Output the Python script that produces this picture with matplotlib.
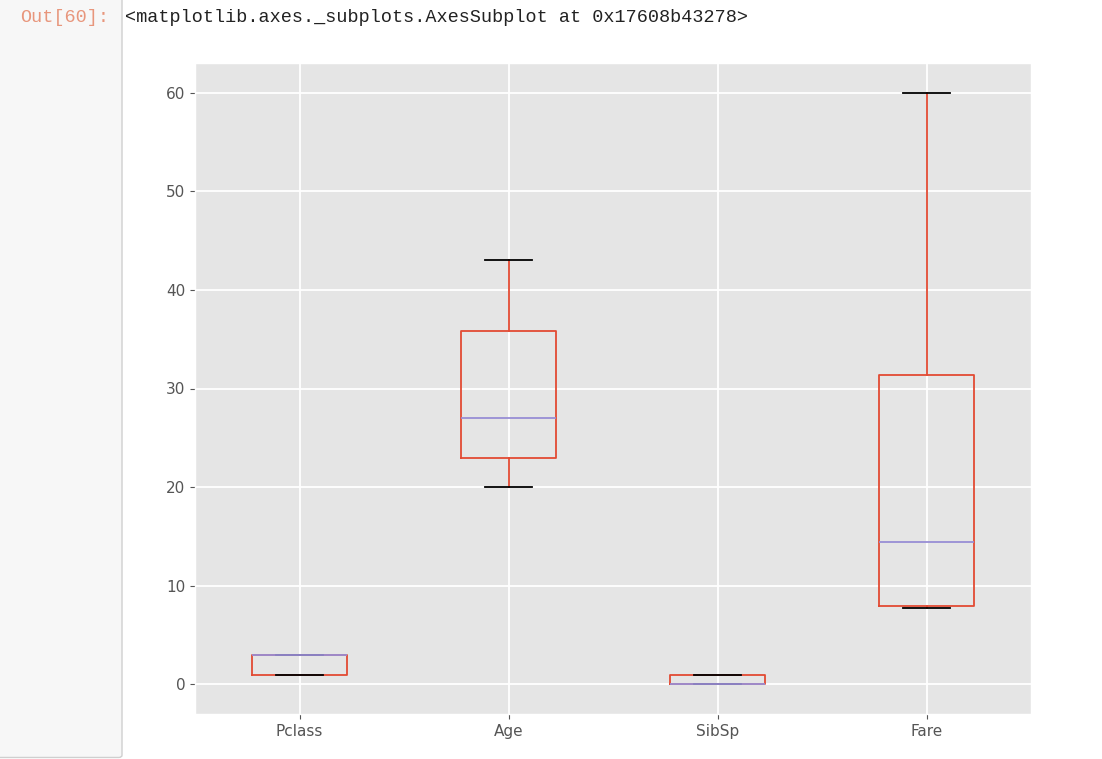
import matplotlib.pyplot as plt
from matplotlib.patches import FancyBboxPatch

plt.style.use('ggplot')

# box statistics
names = ['Pclass', 'Age', 'SibSp', 'Fare']
q1 = [1, 23.0, 0, 7.9]
med = [3, 27.0, 0, 14.45]
q3 = [3, 35.8, 1, 31.4]
whislo = [1, 20.0, 0, 7.75]
whishi = [3, 43.0, 1, 60.0]

stats = []
for i in range(len(names)):
    stats.append(dict(label=names[i], q1=q1[i], med=med[i], q3=q3[i],
                      whislo=whislo[i], whishi=whishi[i], fliers=[]))

fig = plt.figure(figsize=(11.02, 7.59), dpi=100)
fig.patch.set_facecolor('white')

# notebook prompt area on the left
panel = FancyBboxPatch((-0.01, 0.002), 122 / 1102 + 0.01, 1.1,
                       boxstyle='round,pad=0,rounding_size=0.003',
                       transform=fig.transFigure, facecolor='#f7f7f7',
                       edgecolor='#cfcfcf', linewidth=1)
fig.patches.append(panel)
fig.text(20 / 1102, 1 - 17 / 759, 'Out[60]:', color='#e8967c',
         family='Liberation Mono', fontsize=13.3, va='center')
fig.text(125 / 1102, 1 - 17 / 759,
         '<matplotlib.axes._subplots.AxesSubplot at 0x17608b43278>',
         color='#222222', family='Liberation Mono', fontsize=13.3, va='center')

ax = fig.add_axes([195 / 1102, 1 - 714 / 759, (1031 - 195) / 1102, (714 - 63) / 759])
ax.bxp(stats, widths=0.45, showfliers=False,
       boxprops=dict(color='#E24A33', linewidth=1.3),
       whiskerprops=dict(color='#E24A33', linewidth=1.3),
       medianprops=dict(color='#988ED5', linewidth=1.3),
       capprops=dict(color='k', linewidth=1.3))
ax.set_xlim(0.5, 4.5)
ax.set_ylim(-3, 63)
ax.grid(True, color='white', linewidth=1.3)
ax.tick_params(labelsize=11, colors='#555555')
for lab in ax.get_xticklabels() + ax.get_yticklabels():
    lab.set_color('#555555')

fig.savefig('out.png', dpi=100)
